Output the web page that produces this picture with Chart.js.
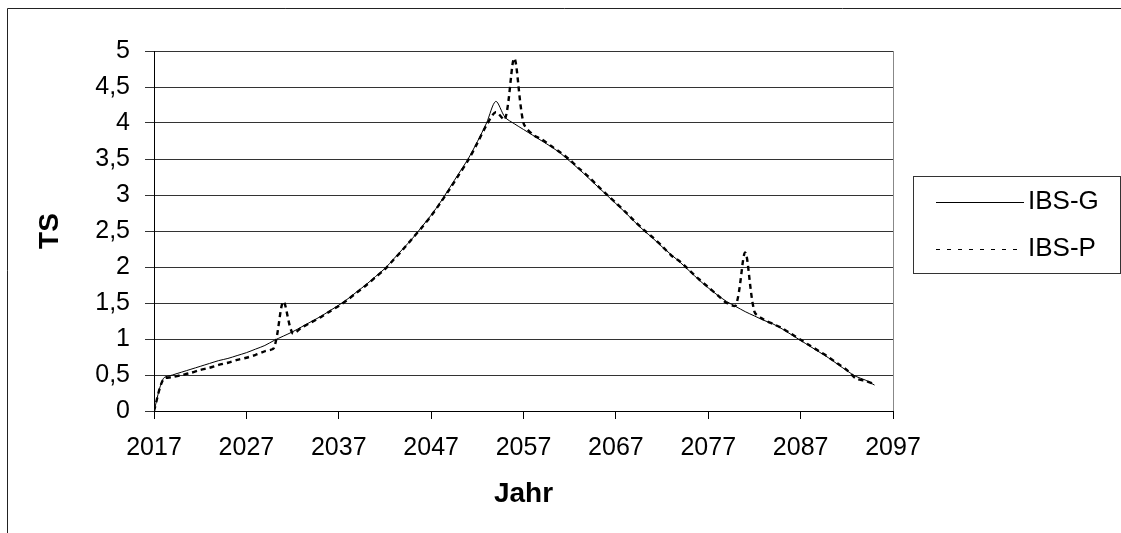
<!DOCTYPE html>
<html>
<head>
<meta charset="utf-8">
<script src="https://cdn.jsdelivr.net/npm/chart.js@4.4.1/dist/chart.umd.min.js"></script>
<style>
  body { margin: 0; background: #fff; }
  canvas { display: block; }
</style>
</head>
<body>
<canvas id="tsChart" width="1121" height="533"></canvas>
<script>
// yearly values, 2017 .. 2095
const startYear = 2017;
const ibsG = [
  0, 0.45, 0.50, 0.54, 0.58, 0.62, 0.66, 0.70, 0.73, 0.77,
  0.81, 0.86, 0.91, 0.98, 1.04, 1.10, 1.17, 1.24, 1.31, 1.39,
  1.47, 1.56, 1.66, 1.76, 1.87, 1.98, 2.12, 2.26, 2.40, 2.56,
  2.72, 2.90, 3.10, 3.30, 3.50, 3.74, 4.00, 4.30, 4.08, 3.99,
  3.91, 3.83, 3.75, 3.67, 3.58, 3.47, 3.36, 3.24, 3.12, 3.00,
  2.88, 2.76, 2.63, 2.51, 2.40, 2.28, 2.17, 2.06, 1.94, 1.82,
  1.71, 1.61, 1.52, 1.45, 1.38, 1.32, 1.26, 1.21, 1.14, 1.06,
  0.98, 0.90, 0.82, 0.74, 0.65, 0.56, 0.48, 0.43, 0.36
];
const ibsP = [
  0, 0.44, 0.47, 0.50, 0.53, 0.57, 0.60, 0.64, 0.67, 0.71,
  0.74, 0.78, 0.83, 0.88, 1.52, 1.08, 1.16, 1.23, 1.30, 1.38,
  1.46, 1.55, 1.65, 1.75, 1.86, 1.97, 2.11, 2.25, 2.40, 2.55,
  2.71, 2.89, 3.08, 3.28, 3.48, 3.72, 3.97, 4.15, 4.05, 4.90,
  4.00, 3.84, 3.77, 3.68, 3.59, 3.49, 3.37, 3.26, 3.13, 3.01,
  2.89, 2.77, 2.64, 2.52, 2.41, 2.29, 2.16, 2.07, 1.95, 1.83,
  1.72, 1.61, 1.50, 1.47, 2.20, 1.38, 1.27, 1.21, 1.15, 1.07,
  0.99, 0.91, 0.83, 0.75, 0.66, 0.57, 0.45, 0.42, 0.37
];
const years = ibsG.map((_, i) => startYear + i);
const xTicks = [2017, 2027, 2037, 2047, 2057, 2067, 2077, 2087, 2097];

const FONT = "'Liberation Sans', Arial, sans-serif";

// outer frame, right border of the plot, and the boxed legend on the right
const frame = {
  id: "frame",
  beforeDraw(chart) {
    const { ctx } = chart;
    ctx.save();
    ctx.strokeStyle = "#222";
    ctx.lineWidth = 1;
    ctx.beginPath();
    ctx.moveTo(7.5, 533);
    ctx.lineTo(7.5, 8.5);
    ctx.lineTo(1121, 8.5);
    ctx.stroke();
    ctx.restore();
  },
  afterDatasetsDraw(chart) {
    const { ctx, chartArea } = chart;
    ctx.save();
    ctx.strokeStyle = "#888";
    ctx.beginPath();
    ctx.moveTo(Math.round(chartArea.right) + 0.5, chartArea.top);
    ctx.lineTo(Math.round(chartArea.right) + 0.5, chartArea.bottom);
    ctx.stroke();

    ctx.strokeStyle = "#333";
    ctx.strokeRect(913.5, 176.5, 207, 97);
    ctx.font = "26px " + FONT;
    ctx.textBaseline = "middle";
    ctx.fillStyle = "#000";
    const rows = [202, 249];
    chart.data.datasets.forEach((ds, i) => {
      ctx.strokeStyle = "#000";
      ctx.lineWidth = 1;
      ctx.setLineDash(ds.borderDash ? [4, 7] : []);
      ctx.beginPath();
      ctx.moveTo(936, rows[i] + 0.5);
      ctx.lineTo(1024, rows[i] + 0.5);
      ctx.stroke();
      ctx.setLineDash([]);
      ctx.fillText(ds.label, 1028, rows[i]);
    });
    ctx.restore();
  }
};

new Chart(document.getElementById("tsChart"), {
  type: "line",
  data: {
    datasets: [
      {
        label: "IBS-G",
        data: years.map((y, i) => ({ x: y, y: ibsG[i] })),
        borderColor: "#000",
        borderWidth: 1,
        pointRadius: 0,
        tension: 0.3
      },
      {
        label: "IBS-P",
        data: years.map((y, i) => ({ x: y, y: ibsP[i] })),
        borderColor: "#000",
        borderWidth: 2.4,
        borderDash: [5, 4],
        pointRadius: 0,
        tension: 0.3
      }
    ]
  },
  options: {
    responsive: false,
    animation: false,
    layout: { padding: { top: 51, right: 228, bottom: 0, left: 0 } },
    plugins: {
      legend: { display: false },
      tooltip: { enabled: false }
    },
    scales: {
      x: {
        type: "linear",
        min: 2017,
        max: 2097,
        afterBuildTicks: (scale) => { scale.ticks = xTicks.map(v => ({ value: v })); },
        afterFit: (scale) => { scale.height = 122; },
        border: { color: "#000", width: 1 },
        grid: { drawOnChartArea: false, tickLength: 8, color: "#000" },
        ticks: {
          color: "#000",
          padding: 14,
          maxRotation: 0,
          font: { family: FONT, size: 25 },
          callback: (v) => String(v)
        },
        title: {
          display: true,
          text: "Jahr",
          color: "#000",
          font: { family: FONT, size: 28, weight: "bold" },
          padding: { top: 0, bottom: 22 }
        }
      },
      y: {
        min: 0,
        max: 5,
        afterFit: (scale) => { scale.width = 154; },
        border: { color: "#000", width: 1 },
        grid: { color: "#333", tickLength: 9 },
        ticks: {
          stepSize: 0.5,
          color: "#000",
          padding: 15,
          font: { family: FONT, size: 25 },
          callback: (v) => String(v).replace(".", ",")
        },
        title: {
          display: true,
          text: "TS",
          color: "#000",
          font: { family: FONT, size: 28, weight: "bold" },
          padding: { top: 33, bottom: 0 }
        }
      }
    }
  },
  plugins: [frame]
});
</script>
</body>
</html>
